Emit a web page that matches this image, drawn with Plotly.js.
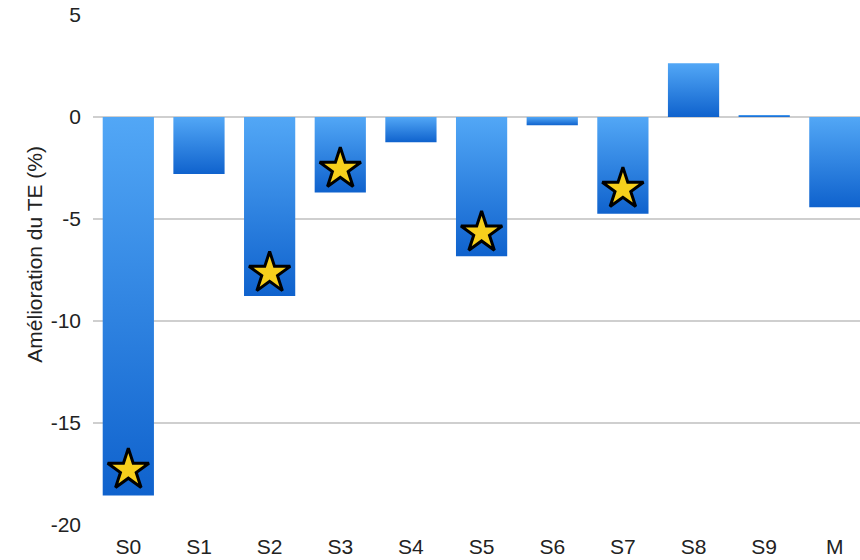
<!DOCTYPE html>
<html>
<head>
<meta charset="utf-8">
<script src="https://cdn.plot.ly/plotly-3.0.1.min.js"></script>
<style>html,body{margin:0;padding:0;background:#fff;}</style>
</head>
<body>
<div id="chart" style="width:860px;height:560px;"></div>
<script>
const categories = ["S0","S1","S2","S3","S4","S5","S6","S7","S8","S9","M"];
const improvement = [-18.56, -2.8, -8.78, -3.7, -1.24, -6.83, -0.41, -4.74, 2.63, 0.1, -4.42];
const starCategories = ["S0","S2","S3","S5","S7"];
const starValues = [-17.3, -7.65, -2.55, -5.67, -3.53];
const yTicks = [-20, -15, -10, -5, 0, 5];
const yTitle = 'Amélioration du TE (%)';

const fontFam = '"Liberation Sans", Arial, Helvetica, sans-serif';

const traces = [
  {
    type: 'bar',
    x: categories,
    y: improvement,
    marker: {color: '#2f85e6', line: {width: 0}},
    hoverinfo: 'skip'
  },
  {
    type: 'scatter',
    mode: 'markers',
    x: starCategories,
    y: starValues,
    marker: {symbol: 'star', size: 31, color: '#f6cf1c', line: {color: '#000000', width: 3}},
    hoverinfo: 'skip',
    cliponaxis: false
  }
];

const layout = {
  width: 860,
  height: 560,
  margin: {l: 93, r: 0, t: 15, b: 35},
  paper_bgcolor: '#ffffff',
  plot_bgcolor: '#ffffff',
  showlegend: false,
  bargap: 0.275,
  font: {family: fontFam, size: 21, color: '#222222'},
  xaxis: {
    type: 'category',
    range: [-0.5, 10.356],
    showgrid: false,
    zeroline: false,
    showline: false,
    ticks: '',
    ticklabelstandoff: 7,
    tickfont: {family: fontFam, size: 21, color: '#222222'}
  },
  yaxis: {
    range: [-20, 5],
    tickvals: yTicks,
    ticktext: yTicks.map(String),
    showgrid: true,
    gridcolor: '#cfcfcf',
    gridwidth: 1.5,
    zeroline: false,
    showline: false,
    ticks: '',
    ticklabelstandoff: 11,
    tickfont: {family: fontFam, size: 21, color: '#222222'}
  },
  annotations: [{
    text: yTitle,
    xref: 'paper', yref: 'paper',
    x: 0, y: 0.53,
    xshift: -58,
    xanchor: 'center', yanchor: 'middle',
    textangle: -90,
    showarrow: false,
    font: {family: fontFam, size: 21, color: '#222222'}
  }]
};

Plotly.newPlot('chart', traces, layout, {staticPlot: true}).then(function(gd){
  const svg = gd.querySelector('svg.main-svg');
  const ns = 'http://www.w3.org/2000/svg';
  let defs = svg.querySelector('defs');
  if (!defs) { defs = document.createElementNS(ns, 'defs'); svg.insertBefore(defs, svg.firstChild); }
  const grad = document.createElementNS(ns, 'linearGradient');
  grad.setAttribute('id', 'barGrad');
  grad.setAttribute('x1', '0'); grad.setAttribute('y1', '0');
  grad.setAttribute('x2', '0'); grad.setAttribute('y2', '1');
  [['0%', '#52a7f6'], ['100%', '#0f62cd']].forEach(function(s){
    const st = document.createElementNS(ns, 'stop');
    st.setAttribute('offset', s[0]);
    st.setAttribute('stop-color', s[1]);
    grad.appendChild(st);
  });
  defs.appendChild(grad);
  gd.querySelectorAll('.barlayer .point path').forEach(function(p){
    p.style.fill = 'url(#barGrad)';
  });
  // the reference has no gridline along the bottom value
  gd.querySelectorAll('.gridlayer .ygrid, .gridlayer .y path').forEach(function(p){
    const d = p.__data__;
    if (d && d.x === yTicks[0]) p.style.display = 'none';
  });
});
</script>
</body>
</html>
